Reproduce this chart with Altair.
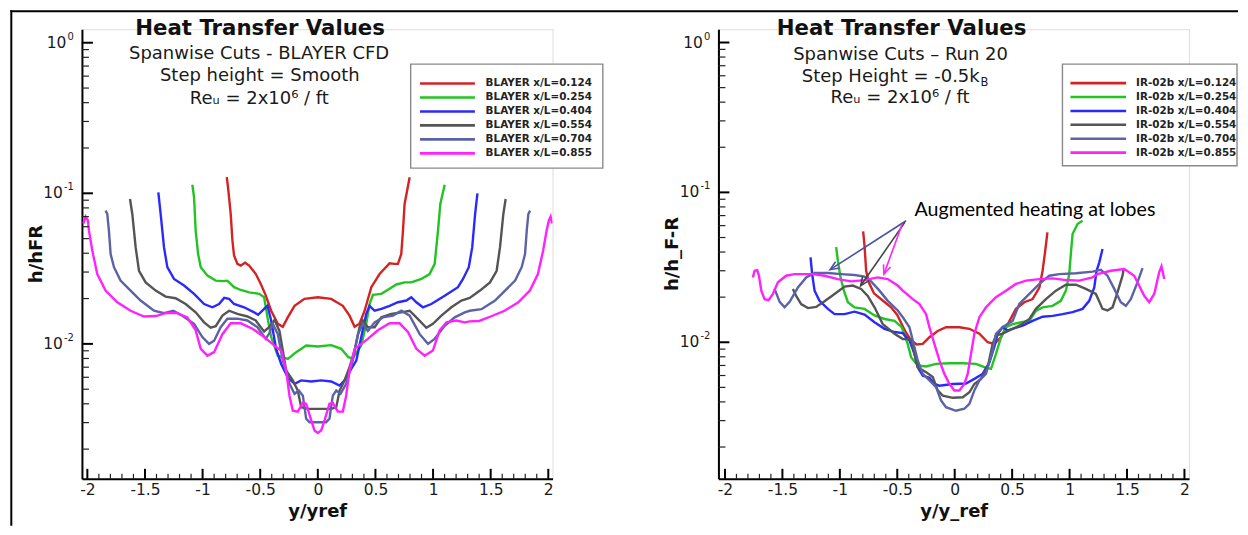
import math
import altair as alt
import pandas as pd

# ---------------- data ----------------
blayer_labels = ["BLAYER x/L=0.124", "BLAYER x/L=0.254", "BLAYER x/L=0.404",
                 "BLAYER x/L=0.554", "BLAYER x/L=0.704", "BLAYER x/L=0.855"]
ir_labels = ["IR-02b x/L=0.124", "IR-02b x/L=0.254", "IR-02b x/L=0.404",
             "IR-02b x/L=0.554", "IR-02b x/L=0.704", "IR-02b x/L=0.855"]

# Left panel (BLAYER CFD): y/yref vs h/hFR
bl124_x = [-0.790, -0.776, -0.756, -0.741, -0.727, -0.698, -0.669, -0.631, -0.596, -0.538, -0.495, -0.452, -0.405,
           -0.347, -0.304, -0.261, -0.202, -0.116, 0.0, 0.116, 0.217, 0.275, 0.319, 0.362, 0.406, 0.464, 0.536,
           0.623, 0.666, 0.695, 0.724, 0.739, 0.753, 0.797]
bl124_y = [0.128, 0.104, 0.0729, 0.0484, 0.0386, 0.0340, 0.0331, 0.0346, 0.0331, 0.0291, 0.0250, 0.0210, 0.0166,
           0.0136, 0.0130, 0.0150, 0.0179, 0.0199, 0.0204, 0.0199, 0.0179, 0.0154, 0.0130, 0.0136, 0.0166, 0.0238,
           0.0291, 0.0343, 0.0340, 0.0340, 0.0395, 0.0565, 0.0849, 0.128]

bl254_x = [-1.089, -1.074, -1.060, -1.039, -1.016, -0.958, -0.886, -0.828, -0.785, -0.727, -0.669, -0.596, -0.509,
           -0.466, -0.437, -0.405, -0.347, -0.260, -0.188, -0.101, 0.0, 0.116, 0.203, 0.265, 0.300, 0.377, 0.420,
           0.449, 0.478, 0.551, 0.623, 0.681, 0.753, 0.811, 0.898, 0.970, 1.014, 1.043, 1.063, 1.101]
bl254_y = [0.114, 0.094, 0.0565, 0.0395, 0.0323, 0.0284, 0.0263, 0.0261, 0.0263, 0.0238, 0.0228, 0.0220, 0.0215,
           0.0204, 0.0150, 0.0111, 0.00835, 0.00795, 0.00881, 0.00975, 0.0096, 0.00981, 0.00927, 0.00815, 0.0080,
           0.00975, 0.0136, 0.0184, 0.0212, 0.0215, 0.0232, 0.0248, 0.0256, 0.0256, 0.0270, 0.0291, 0.0340, 0.0565,
           0.0849, 0.114]

bl404_x = [-1.384, -1.364, -1.335, -1.306, -1.248, -1.161, -1.074, -0.987, -0.915, -0.857, -0.813, -0.770, -0.727,
           -0.640, -0.553, -0.518, -0.466, -0.437, -0.405, -0.362, -0.318, -0.261, -0.202, -0.144, -0.057, 0.030,
           0.116, 0.189, 0.232, 0.290, 0.334, 0.377, 0.420, 0.449, 0.493, 0.551, 0.623, 0.695, 0.768, 0.811, 0.855,
           0.912, 0.985, 1.101, 1.216, 1.260, 1.310, 1.340, 1.365, 1.385]
bl404_y = [0.1015, 0.0729, 0.0439, 0.0323, 0.0270, 0.0244, 0.0215, 0.0184, 0.0175, 0.0184, 0.0202, 0.0199, 0.0184,
           0.0175, 0.0162, 0.0156, 0.0171, 0.0179, 0.0143, 0.00927, 0.00736, 0.00601, 0.00543, 0.00572, 0.00563,
           0.00572, 0.00563, 0.00528, 0.00572, 0.00683, 0.00775, 0.0111, 0.0158, 0.0179, 0.0166, 0.0171, 0.0179,
           0.0189, 0.0194, 0.0204, 0.0189, 0.0175, 0.0184, 0.0209, 0.0238, 0.0270, 0.0323, 0.0439, 0.0729, 0.100]

bl554_x = [-1.630, -1.610, -1.581, -1.552, -1.494, -1.407, -1.321, -1.234, -1.147, -1.060, -0.987, -0.930, -0.886,
           -0.828, -0.770, -0.698, -0.611, -0.539, -0.495, -0.466, -0.423, -0.376, -0.333, -0.304, -0.275, -0.217,
           -0.174, -0.144, -0.087, 0.0, 0.116, 0.160, 0.189, 0.232, 0.275, 0.319, 0.362, 0.391, 0.434, 0.493, 0.551,
           0.638, 0.724, 0.797, 0.855, 0.942, 0.999, 1.072, 1.159, 1.246, 1.318, 1.407, 1.494, 1.552, 1.581, 1.610,
           1.630]
bl554_y = [0.0917, 0.0729, 0.0439, 0.0306, 0.0256, 0.0226, 0.0206, 0.0201, 0.0184, 0.0162, 0.0139, 0.0128, 0.0131,
           0.0154, 0.0166, 0.0158, 0.0152, 0.0143, 0.0129, 0.0121, 0.0129, 0.0144, 0.0122, 0.00904, 0.00666, 0.00572,
           0.0049, 0.0038, 0.0037, 0.0037, 0.0037, 0.0038, 0.0049, 0.00572, 0.0070, 0.00904, 0.0129, 0.0143, 0.0129,
           0.0129, 0.0150, 0.0158, 0.0162, 0.0166, 0.0150, 0.0128, 0.0136, 0.0154, 0.0175, 0.0194, 0.0202, 0.0226,
           0.0256, 0.0306, 0.0439, 0.0729, 0.0917]

bl704_x = [-1.842, -1.827, -1.813, -1.798, -1.769, -1.712, -1.625, -1.538, -1.422, -1.335, -1.254, -1.176, -1.074,
           -1.002, -0.944, -0.900, -0.843, -0.785, -0.698, -0.611, -0.524, -0.452, -0.420, -0.391, -0.347, -0.304,
           -0.246, -0.202, -0.165, -0.130, -0.101, -0.072, 0.0, 0.072, 0.101, 0.130, 0.160, 0.197, 0.246, 0.304,
           0.348, 0.391, 0.434, 0.493, 0.565, 0.652, 0.724, 0.797, 0.884, 0.956, 1.014, 1.101, 1.188, 1.275, 1.318,
           1.420, 1.538, 1.625, 1.712, 1.769, 1.798, 1.813, 1.827, 1.842]
bl704_y = [0.0767, 0.0729, 0.0565, 0.0395, 0.0323, 0.0263, 0.0226, 0.0194, 0.0166, 0.0160, 0.0166, 0.0154, 0.0136,
           0.0111, 0.0100, 0.0105, 0.0129, 0.0147, 0.0147, 0.0143, 0.0129, 0.0108, 0.0118, 0.0136, 0.0116, 0.00775,
           0.00543, 0.00466, 0.0049, 0.00453, 0.00318, 0.00302, 0.00302, 0.00302, 0.00318, 0.00453, 0.0049, 0.00466,
           0.00543, 0.00775, 0.0116, 0.0136, 0.0122, 0.0139, 0.0150, 0.0154, 0.0166, 0.0154, 0.0116, 0.0100, 0.0108,
           0.0132, 0.0150, 0.0162, 0.0166, 0.0170, 0.0194, 0.0226, 0.0263, 0.0323, 0.0395, 0.0565, 0.0729, 0.0767]

bl855_x = [-2.035, -2.015, -1.995, -1.986, -1.957, -1.914, -1.842, -1.740, -1.625, -1.508, -1.407, -1.321, -1.219,
           -1.132, -1.060, -1.016, -0.958, -0.900, -0.828, -0.756, -0.669, -0.567, -0.466, -0.394, -0.362, -0.318,
           -0.275, -0.246, -0.217, -0.174, -0.130, -0.101, -0.057, -0.029, 0.0, 0.029, 0.058, 0.101, 0.130, 0.174,
           0.217, 0.246, 0.275, 0.319, 0.377, 0.434, 0.521, 0.623, 0.710, 0.782, 0.855, 0.927, 0.999, 1.057, 1.116,
           1.202, 1.275, 1.318, 1.400, 1.500, 1.620, 1.740, 1.840, 1.910, 1.955, 1.985, 2.005, 2.020, 2.033]
bl855_y = [0.063, 0.0700, 0.066, 0.0565, 0.0416, 0.0291, 0.0226, 0.0189, 0.0166, 0.0152, 0.0153, 0.0160, 0.0160,
           0.0150, 0.0123, 0.00927, 0.00835, 0.00881, 0.0116, 0.0137, 0.0137, 0.0126, 0.0111, 0.0100, 0.00952,
           0.00904, 0.00666, 0.00453, 0.0036, 0.00355, 0.00405, 0.00400, 0.00310, 0.00266, 0.00256, 0.00266, 0.0031,
           0.00400, 0.00405, 0.00355, 0.00355, 0.00453, 0.00666, 0.00927, 0.0100, 0.0108, 0.0123, 0.0137, 0.0137,
           0.0120, 0.00927, 0.00835, 0.00904, 0.0123, 0.0139, 0.0143, 0.0139, 0.0141, 0.0142, 0.0152, 0.0166, 0.0189,
           0.0226, 0.0291, 0.0416, 0.0565, 0.066, 0.070, 0.063]

# Right panel (Run 20, IR-02b): y/y_ref vs h/h_F-R
ir124_x = [-0.797, -0.785, -0.771, -0.747, -0.703, -0.616, -0.554, -0.500, -0.430, -0.380, -0.330, -0.278, -0.220,
           -0.148, -0.076, 0.041, 0.128, 0.215, 0.287, 0.345, 0.403, 0.461, 0.533, 0.606, 0.678, 0.737, 0.765, 0.788,
           0.807]
ir124_y = [0.0549, 0.0440, 0.0300, 0.0250, 0.0212, 0.0187, 0.0171, 0.0152, 0.0118, 0.0103, 0.00966, 0.00975, 0.0108,
           0.0119, 0.0126, 0.0126, 0.0123, 0.0114, 0.0100, 0.00975, 0.0108, 0.0132, 0.0167, 0.0185, 0.0194, 0.0232,
           0.0300, 0.0408, 0.0541]

ir254_x = [-1.032, -1.017, -0.994, -0.965, -0.930, -0.872, -0.785, -0.698, -0.611, -0.524, -0.461, -0.409, -0.380,
           -0.322, -0.249, -0.162, -0.046, 0.070, 0.185, 0.258, 0.316, 0.359, 0.403, 0.446, 0.504, 0.577, 0.650,
           0.707, 0.765, 0.852, 0.924, 0.968, 0.997, 1.011, 1.026, 1.069, 1.113]
ir254_y = [0.0431, 0.0350, 0.0271, 0.0221, 0.0185, 0.0171, 0.0167, 0.0151, 0.0143, 0.0139, 0.0126, 0.00975, 0.00795,
           0.00700, 0.00690, 0.00717, 0.00725, 0.00725, 0.00717, 0.00682, 0.00664, 0.00835, 0.0108, 0.0126, 0.0132,
           0.0136, 0.0139, 0.0162, 0.0171, 0.0175, 0.0189, 0.0221, 0.0285, 0.0388, 0.0527, 0.0615, 0.0647]

ir404_x = [-1.255, -1.241, -1.220, -1.177, -1.104, -1.046, -0.959, -0.872, -0.785, -0.698, -0.611, -0.524, -0.452,
           -0.394, -0.350, -0.322, -0.278, -0.220, -0.177, -0.133, -0.017, 0.098, 0.171, 0.243, 0.302, 0.345, 0.374,
           0.417, 0.461, 0.504, 0.591, 0.678, 0.765, 0.852, 0.939, 1.026, 1.113, 1.171, 1.215, 1.235, 1.258, 1.287]
ir404_y = [0.0369, 0.0285, 0.0221, 0.0189, 0.0167, 0.0154, 0.0154, 0.0160, 0.0153, 0.0136, 0.0123, 0.0117, 0.0115,
           0.0103, 0.00835, 0.00682, 0.00599, 0.00580, 0.00527, 0.00513, 0.00527, 0.00531, 0.00570, 0.00615, 0.00735,
           0.00930, 0.0114, 0.0126, 0.0120, 0.0123, 0.0129, 0.0139, 0.0148, 0.0150, 0.0154, 0.0159, 0.0167, 0.0189,
           0.0232, 0.0300, 0.0340, 0.0419]

ir554_x = [-1.409, -1.380, -1.337, -1.278, -1.206, -1.133, -1.046, -0.959, -0.887, -0.815, -0.757, -0.698, -0.626,
           -0.524, -0.452, -0.380, -0.350, -0.322, -0.249, -0.191, -0.148, -0.104, -0.017, 0.070, 0.128, 0.171, 0.229,
           0.287, 0.330, 0.359, 0.417, 0.475, 0.562, 0.650, 0.707, 0.794, 0.881, 0.968, 1.055, 1.142, 1.229, 1.287,
           1.330, 1.374, 1.417, 1.461, 1.470]
ir554_y = [0.0227, 0.0204, 0.0180, 0.0169, 0.0172, 0.0188, 0.0210, 0.0235, 0.0239, 0.0227, 0.0204, 0.0171, 0.0132,
           0.0114, 0.0105, 0.0105, 0.00835, 0.00682, 0.00632, 0.00586, 0.00477, 0.00441, 0.00426, 0.00430, 0.00464,
           0.00527, 0.00570, 0.00682, 0.00975, 0.0111, 0.0114, 0.0120, 0.0129, 0.0143, 0.0167, 0.0194, 0.0221, 0.0242,
           0.0242, 0.0227, 0.0210, 0.0167, 0.0163, 0.0171, 0.0215, 0.0278, 0.0305]

ir704_x = [-1.568, -1.524, -1.481, -1.437, -1.365, -1.293, -1.220, -1.104, -0.988, -0.872, -0.785, -0.728, -0.655,
           -0.583, -0.496, -0.452, -0.394, -0.365, -0.322, -0.278, -0.220, -0.162, -0.119, -0.076, 0.011, 0.084,
           0.128, 0.171, 0.215, 0.272, 0.330, 0.359, 0.417, 0.504, 0.562, 0.650, 0.737, 0.823, 0.910, 1.055, 1.200,
           1.272, 1.330, 1.389, 1.446, 1.490, 1.533, 1.591, 1.635]
ir704_y = [0.0227, 0.0186, 0.0171, 0.0186, 0.0232, 0.0271, 0.0290, 0.0290, 0.0285, 0.0281, 0.0274, 0.0255, 0.0221,
           0.0189, 0.0163, 0.0147, 0.0126, 0.0103, 0.00756, 0.00615, 0.00557, 0.00502, 0.00409, 0.00369, 0.00349,
           0.00360, 0.00388, 0.00477, 0.00557, 0.00615, 0.00876, 0.0114, 0.0126, 0.0139, 0.0180, 0.0210, 0.0245,
           0.0278, 0.0285, 0.0289, 0.0296, 0.0304, 0.0278, 0.0227, 0.0185, 0.0175, 0.0194, 0.0251, 0.0312]

ir855_x = [-1.757, -1.742, -1.719, -1.704, -1.684, -1.655, -1.620, -1.583, -1.539, -1.467, -1.394, -1.307, -1.235,
           -1.133, -1.017, -0.902, -0.785, -0.670, -0.583, -0.496, -0.452, -0.365, -0.307, -0.249, -0.220, -0.177,
           -0.133, -0.090, -0.046, -0.003, 0.041, 0.084, 0.113, 0.142, 0.171, 0.215, 0.272, 0.359, 0.446, 0.533,
           0.620, 0.737, 0.852, 0.968, 1.084, 1.200, 1.243, 1.360, 1.476, 1.563, 1.650, 1.693, 1.737, 1.780, 1.800,
           1.824]
ir855_y = [0.0271, 0.0300, 0.0303, 0.0278, 0.0221, 0.0194, 0.0191, 0.0210, 0.0251, 0.0278, 0.0285, 0.0285, 0.0285,
           0.0278, 0.0264, 0.0255, 0.0260, 0.0271, 0.0264, 0.0239, 0.0221, 0.0194, 0.0180, 0.0154, 0.0126, 0.00975,
           0.00756, 0.00615, 0.00527, 0.00477, 0.00477, 0.00527, 0.00615, 0.00835, 0.0114, 0.0147, 0.0171, 0.0200,
           0.0221, 0.0245, 0.0258, 0.0264, 0.0267, 0.0260, 0.0258, 0.0271, 0.0285, 0.0300, 0.0308, 0.0278, 0.0204,
           0.0185, 0.0210, 0.0293, 0.0321, 0.0264]

# annotation arrows (right panel, data coordinates): tail -> head
arrow_x0 = [-0.423, -0.434, -0.457]
arrow_y0 = [0.0647, 0.0631, 0.0615]
arrow_x1 = [-1.085, -0.819, -0.616]
arrow_y1 = [0.0305, 0.0238, 0.0285]

# axis tick values
x_major = [-2, -1.5, -1, -0.5, 0, 0.5, 1, 1.5, 2]
x_minor = [round(-2 + 0.1 * i, 1) for i in range(41) if i % 5 != 0]
y_major = [1.0, 0.1, 0.01]
y_major_exp = ["0", "-1", "-2"]
y_minor = [m * 10.0 ** e for e in (-3, -2, -1) for m in range(2, 10)]

# ---------------- styles / layout ----------------
series_colors = ["#d42323", "#22c422", "#2a2aff", "#555555", "#5b63a6", "#ff22ff"]
arrow_colors = ["#4b52a3", "#454545", "#ff22ff"]
W, H = 471, 450
FONT = "DejaVu Sans"
TXT = "#1a1a1a"
XDOM_L = [-2.047, 2.037]
YDOM_L = [0.00127, 1.23]
XDOM_R = [-2.057, 2.040]
YDOM_R = [0.001227, 1.227]


def series_df(labels, xs_list, ys_list):
    rows = []
    for lab, xs, ys in zip(labels, xs_list, ys_list):
        for i, (xv, yv) in enumerate(zip(xs, ys)):
            rows.append({"series": lab, "i": i, "x": xv, "y": yv})
    return pd.DataFrame(rows)


ONE = pd.DataFrame({"k": [0]})


def label(text, x, y, size, weight="normal", align="center", baseline="alphabetic",
          font=FONT, color=TXT, angle=0):
    return alt.Chart(ONE).mark_text(
        text=text, align=align, baseline=baseline, fontSize=size, fontWeight=weight,
        font=font, color=color, angle=angle
    ).encode(x=alt.value(x), y=alt.value(y))


def panel(df, labels, xdom, ydom, xtitle, ytitle, texts, legend_geom, extras):
    xs = alt.Scale(domain=xdom, nice=False, zero=False)
    ys = alt.Scale(type="log", domain=ydom, nice=False)
    cscale = alt.Scale(domain=labels, range=series_colors)

    lines = alt.Chart(df).mark_line(strokeWidth=2.4, clip=True).encode(
        x=alt.X("x:Q", scale=xs, axis=alt.Axis(
            values=x_major, labelExpr="datum.value + ''", ticks=False, grid=False,
            domainColor="black", domainWidth=2, labelFont=FONT, labelFontSize=15.5,
            labelColor=TXT, labelPadding=4, labelFlush=False, labelOverlap=False,
            title=xtitle, titleFont=FONT, titleFontSize=18, titleFontWeight="bold",
            titleColor="#111", titlePadding=4)),
        y=alt.Y("y:Q", scale=ys, axis=alt.Axis(
            labels=False, ticks=False, grid=False, title=None,
            domainColor="black", domainWidth=2)),
        color=alt.Color("series:N", scale=cscale, legend=None),
        order="i:Q",
    )

    ymaj = alt.Chart(pd.DataFrame({"y": y_major, "exp": y_major_exp}))
    ytick_major = ymaj.mark_rule(color="black", strokeWidth=2).encode(
        y="y:Q", x=alt.value(0), x2=alt.value(11))
    ytick_minor = alt.Chart(pd.DataFrame({"y": y_minor})).mark_rule(
        color="#222", strokeWidth=1.2).encode(y="y:Q", x=alt.value(0), x2=alt.value(7))
    xtick_major = alt.Chart(pd.DataFrame({"x": x_major})).mark_rule(
        color="black", strokeWidth=2).encode(x="x:Q", y=alt.value(H), y2=alt.value(H - 10))
    xtick_minor = alt.Chart(pd.DataFrame({"x": x_minor})).mark_rule(
        color="#222", strokeWidth=1.2).encode(x="x:Q", y=alt.value(H), y2=alt.value(H - 5))

    ylab_base = ymaj.transform_calculate(
        lx="datum.exp == '0' ? -15.5 : -19"
    ).mark_text(text="10", align="right", baseline="middle", fontSize=15.5,
                font=FONT, color=TXT).encode(
        y="y:Q", x=alt.X("lx:Q", scale=None))
    ylab_exp = ymaj.mark_text(align="right", baseline="middle", fontSize=10, dy=-6,
                              font=FONT, color=TXT).encode(
        y="y:Q", x=alt.value(-8), text="exp:N")

    ytitle_layer = label(ytitle, -45, H / 2, 18, weight="bold", baseline="middle",
                         color="#111", angle=270)

    (bx0, bx1, by0, by1, lx0, lx1, tx, ry0, rdy) = legend_geom
    leg = alt.Chart(pd.DataFrame({"series": labels, "k": list(range(len(labels)))})).transform_calculate(
        ly=f"{ry0} + {rdy} * datum.k")
    leg_box = alt.Chart(ONE).mark_rect(fill="white", stroke="#8a8a8a", strokeWidth=1.4).encode(
        x=alt.value(bx0), x2=alt.value(bx1), y=alt.value(by0), y2=alt.value(by1))
    leg_lines = leg.mark_rule(strokeWidth=2.6).encode(
        x=alt.value(lx0), x2=alt.value(lx1), y=alt.Y("ly:Q", scale=None),
        color=alt.Color("series:N", scale=cscale, legend=None))
    leg_text = leg.mark_text(align="left", baseline="middle", font=FONT, fontWeight="bold",
                             fontSize=10.4, color="#222").encode(
        x=alt.value(tx), y=alt.Y("ly:Q", scale=None), text="series:N")

    layers = [lines, ytick_minor, ytick_major, xtick_minor, xtick_major, ylab_base, ylab_exp,
              ytitle_layer, leg_box, leg_lines, leg_text] + texts + extras
    return alt.layer(*layers).properties(width=W, height=H)


# ---------------- left panel ----------------
df_L = series_df(blayer_labels,
                 [bl124_x, bl254_x, bl404_x, bl554_x, bl704_x, bl855_x],
                 [bl124_y, bl254_y, bl404_y, bl554_y, bl704_y, bl855_y])

texts_L = [
    label("Heat Transfer Values", 178.3, 6, 21.3, weight="bold", color="#111"),
    label("Spanwise Cuts - BLAYER CFD", 177.3, 30, 18),
    label("Step height = Smooth", 178, 52, 18),
    label("Re\u1d64 = 2x10\u2076 / ft", 177.5, 74.5, 18),
]
frame_L = [
    alt.Chart(ONE).mark_rule(color="black", strokeWidth=2).encode(
        x=alt.value(-71.7), x2=alt.value(1157.0), y=alt.value(-18)),
    alt.Chart(ONE).mark_rule(color="black", strokeWidth=2).encode(
        x=alt.value(-70.7), y=alt.value(-19), y2=alt.value(497)),
]
left = panel(df_L, blayer_labels, XDOM_L, YDOM_L, "y/yref", "h/hFR", texts_L,
             (329, 521.3, 35, 139, 338.3, 393.3, 404, 54.3, 14.0), frame_L)

# ---------------- right panel ----------------
df_R = series_df(ir_labels,
                 [ir124_x, ir254_x, ir404_x, ir554_x, ir704_x, ir855_x],
                 [ir124_y, ir254_y, ir404_y, ir554_y, ir704_y, ir855_y])


def to_px(xv, yv, xdom, ydom):
    px = (xv - xdom[0]) / (xdom[1] - xdom[0]) * W
    l0, l1 = math.log10(ydom[0]), math.log10(ydom[1])
    py = H - (math.log10(yv) - l0) / (l1 - l0) * H
    return px, py


angles = []
for a, b, c, d in zip(arrow_x0, arrow_y0, arrow_x1, arrow_y1):
    p0 = to_px(a, b, XDOM_R, YDOM_R)
    p1 = to_px(c, d, XDOM_R, YDOM_R)
    dx, dy = p1[0] - p0[0], p1[1] - p0[1]
    angles.append(math.degrees(math.atan2(dx, -dy)) % 360)

arrows = pd.DataFrame({"x": arrow_x0, "y": arrow_y0, "x1": arrow_x1, "y1": arrow_y1,
                       "c": arrow_colors, "ang": angles})
arrow_lines = alt.Chart(arrows).mark_rule(strokeWidth=1.6).encode(
    x="x:Q", y="y:Q", x2="x1:Q", y2="y1:Q", color=alt.Color("c:N", scale=None))
arrow_heads = alt.Chart(arrows).mark_point(
    shape="M-0.42,1L0,0L0.42,1", filled=False, size=320, strokeWidth=1.6, opacity=1
).encode(x=alt.X("x1:Q"), y=alt.Y("y1:Q"), angle=alt.Angle("ang:Q", scale=None),
         color=alt.Color("c:N", scale=None))

texts_R = [
    label("Heat Transfer Values", 183.3, 5.8, 21.3, weight="bold", color="#111"),
    label("Spanwise Cuts \u2013 Run 20", 182.3, 30.7, 18),
    label("Step Height = -0.5k", 261.5, 53, 18, align="right"),
    label("B", 262.3, 57, 11.5, align="left"),
    label("Re\u1d64 = 2x10\u2076 / ft", 181.8, 74, 18),
    label("Augmented heating at lobes", 196.3, 186.7, 19.6, font="Lato", align="left", color="black"),
]
right = panel(df_R, ir_labels, XDOM_R, YDOM_R, "y/y_ref", "h/h_F-R", texts_R,
              (344.3, 519.0, 35, 136.7, 352.3, 408, 418, 54, 13.9), [arrow_lines, arrow_heads])

chart = alt.hconcat(left, right, spacing=166, bounds="flush").properties(
    padding=0
).configure_view(stroke=None).configure(font=FONT)

chart.save("out.html", embed_options={"renderer": "svg", "actions": False})
